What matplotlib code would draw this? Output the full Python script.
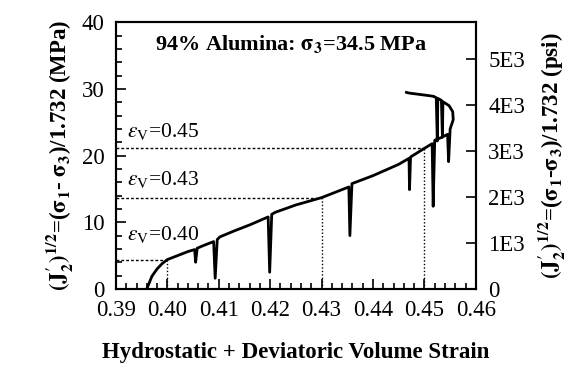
import matplotlib
matplotlib.use("Agg")
import matplotlib.pyplot as plt
from matplotlib.ticker import MultipleLocator, FixedLocator

plt.rcParams['font.family'] = 'serif'
plt.rcParams['font.serif'] = ['Liberation Serif', 'DejaVu Serif']
plt.rcParams['mathtext.fontset'] = 'stix'

# traced stress-strain path (volume strain, sqrt(J2') in MPa)
strain = [0.3960, 0.3970, 0.3980, 0.3990, 0.4000, 0.4020, 0.4040, 0.4053,
          0.4055, 0.4058, 0.4070, 0.4090, 0.4093, 0.4097, 0.4102, 0.4130,
          0.4160, 0.4196, 0.4199, 0.4203, 0.4210, 0.4250, 0.4300, 0.4353,
          0.4355, 0.4359, 0.4400, 0.4450, 0.4470, 0.4471, 0.4473, 0.4500,
          0.4515, 0.4517, 0.4520, 0.4535, 0.4545, 0.4547, 0.4550, 0.4556,
          0.4555, 0.4548, 0.4536, 0.4535, 0.4533, 0.4526, 0.4525, 0.4523,
          0.4518, 0.4510, 0.4490, 0.4470, 0.4465]
stress = [0.0, 1.9, 3.0, 3.8, 4.4, 5.0, 5.6, 5.9,
          4.0, 6.1, 6.5, 7.1, 1.6, 7.4, 7.8, 8.7,
          9.6, 10.8, 2.5, 11.2, 11.5, 12.6, 13.7, 15.3,
          8.0, 15.8, 17.0, 18.7, 19.6, 14.9, 19.8, 21.1,
          21.8, 12.4, 22.3, 22.8, 23.2, 19.1, 24.0, 25.4,
          26.6, 27.5, 28.1, 22.8, 28.3, 28.6, 22.2, 28.7,
          28.9, 29.0, 29.2, 29.4, 29.5]

# reference strain levels and their stresses
ev_levels = [0.40, 0.43, 0.45]
ev_stress = [4.3, 13.6, 21.1]
ev_labels = ['0.40', '0.43', '0.45']
label_y = [8.1, 16.4, 23.6]

MPA_TO_PSI = 145.04
psi_ticks = [0, 1000, 2000, 3000, 4000, 5000]
psi_labels = ['0', '1E3', '2E3', '3E3', '4E3', '5E3']

fig = plt.figure(figsize=(5.74, 3.68), dpi=100)
ax = fig.add_axes([0.202, 0.215, 0.627, 0.724])

ax.plot(strain, stress, color='black', lw=2, solid_joinstyle='round')

for ev, s, lab, ly in zip(ev_levels, ev_stress, ev_labels, label_y):
    ax.plot([0.39, ev], [s, s], color='black', lw=1, linestyle=(0, (2, 1.5)))
    ax.plot([ev, ev], [0, s], color='black', lw=1, linestyle=(0, (1, 1.5)))
    ax.text(0.3921, ly, r'$\varepsilon_{\mathrm{V}}$=' + lab, fontsize=15.5,
            va='center', ha='left')

ax.text(0.4241, 36.6, r'94% Alumina: $\mathbf{\sigma_3}$=34.5 MPa', fontsize=16,
        fontweight='bold', ha='center', va='center')

ax.set_xlim(0.39, 0.46)
ax.set_ylim(0, 40)
ax.xaxis.set_major_locator(MultipleLocator(0.01))
ax.xaxis.set_minor_locator(MultipleLocator(0.002))
ax.yaxis.set_major_locator(MultipleLocator(10))
ax.yaxis.set_minor_locator(MultipleLocator(2))
ax.set_xticklabels(['%.2f' % v for v in ax.get_xticks()])
ax.tick_params(which='both', direction='in', top=False, right=False,
               labelsize=16.5, width=1.2)
ax.tick_params(which='major', length=7)
ax.tick_params(which='minor', length=4)
ax.tick_params(axis='x', pad=8)
ax.tick_params(axis='y', pad=8)
for sp in ax.spines.values():
    sp.set_linewidth(1.5)

ax.set_xlabel('Hydrostatic + Deviatoric Volume Strain', fontsize=16.5,
              fontweight='bold', labelpad=15)
ax.set_ylabel(r"$\mathbf{(J_2^{\prime})^{1/2}}$=($\mathbf{\sigma_1}$- $\mathbf{\sigma_3}$)/1.732 (MPa)",
              fontsize=16.5, fontweight='bold', labelpad=4)

ax2 = ax.twinx()
ax2.set_ylim(0, 40 * MPA_TO_PSI)
ax2.yaxis.set_major_locator(FixedLocator(psi_ticks))
ax2.set_yticklabels(psi_labels)
ax2.tick_params(direction='in', length=7, width=1.2, labelsize=16.5, pad=9)
ax2.set_ylabel(r"$\mathbf{(J_2^{\prime})^{1/2}}$=($\mathbf{\sigma_1}$-$\mathbf{\sigma_3}$)/1.732 (psi)",
               fontsize=16.5, fontweight='bold', labelpad=8)
for sp in ax2.spines.values():
    sp.set_linewidth(1.5)

fig.savefig('out.png', dpi=100, facecolor='white')
